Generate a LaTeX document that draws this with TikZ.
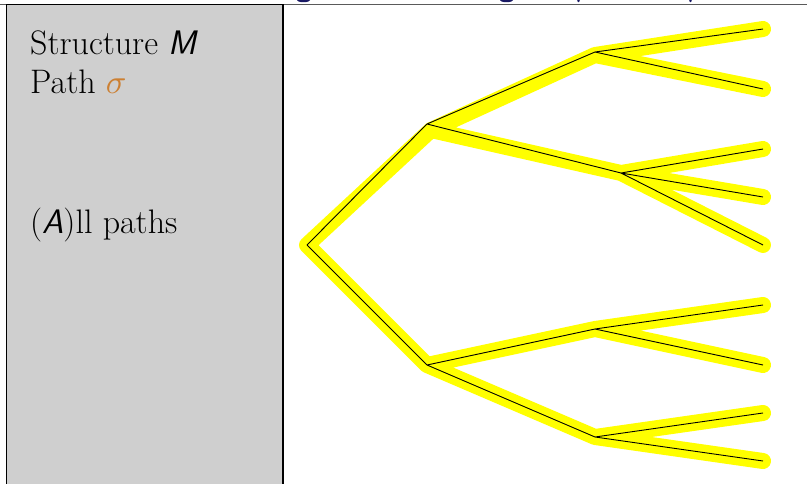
\documentclass[tikz,border=0pt]{standalone}
\definecolor{panel}{RGB}{207,207,207}
\definecolor{sigmacol}{RGB}{204,128,51}
\definecolor{titleblue}{RGB}{25,25,100}
\definecolor{hl}{RGB}{255,255,0}
\definecolor{rule}{RGB}{90,90,90}
\newcommand{\bigsigma}{\scalebox{3.4}{\fontsize{10}{12}\selectfont$\sigma$}}
\begin{document}
\begin{tikzpicture}[x=1pt,y=-1pt,
  lbl/.style={anchor=base west, inner sep=0pt, font=\fontsize{34}{40}\selectfont},
  hlpath/.style={draw=hl, line width=16pt, line cap=round, line join=round},
  edge/.style={draw=black, line width=0.9pt}]
\useasboundingbox (0,0) rectangle (807,483);
\fill[white] (0,0) rectangle (807,483);
% clipped descenders of the title above
\begin{scope}
  \clip (0,0) rectangle (807,3.4);
  \fill[titleblue] (303.5,0.2) ellipse (6.5 and 2);
  \fill[titleblue] (506.5,0.2) ellipse (6.5 and 2);
  \fill[titleblue] (578.5,0) ellipse (1.3 and 2.2);
  \fill[titleblue] (690.5,0) ellipse (1.3 and 2.2);
\end{scope}
\draw[rule, line width=1pt] (0,4.7) -- (807,4.7);
% left panel
\filldraw[fill=panel, draw=black, line width=1.5pt] (6.5,4.7) rectangle (283,495);
\node[lbl] (t1) at (30,54) {Structure \textsf{\itshape M}};
\node[lbl] (t2) at (30,93) {Path \textcolor{sigmacol}{\bigsigma}};
\node[lbl] (t3) at (30,233) {(\textsf{\itshape A})ll paths};
% tree points
\coordinate (r) at (307,245);
\coordinate (a) at (427,124);
\coordinate (ya) at (431,130);
\coordinate (b) at (427,365);
\coordinate (c) at (595,52);
\coordinate (yc) at (595,55);
\coordinate (d) at (621,173);
\coordinate (e) at (595,329);
\coordinate (f) at (595,437);
\coordinate (c1) at (763,29);
\coordinate (c2) at (763,89);
\coordinate (d1) at (763,149);
\coordinate (d2) at (763,197);
\coordinate (d3) at (763,245);
\coordinate (e1) at (763,305);
\coordinate (e2) at (763,365);
\coordinate (f1) at (763,413);
\coordinate (f2) at (763,461);
% highlight
\draw[hlpath] (c1) -- (yc) -- (c2) (yc) -- (ya) -- (d) (d1) -- (d) -- (d2) (d) -- (d3)
  (ya) -- (r) -- (b) -- (e) (e1) -- (e) -- (e2) (b) -- (f) (f1) -- (f) -- (f2);
% tree edges
\draw[edge] (r) -- (a) (r) -- (b)
  (a) -- (c) (a) -- (d) (b) -- (e) (b) -- (f)
  (c) -- (c1) (c) -- (c2)
  (d) -- (d1) (d) -- (d2) (d) -- (d3)
  (e) -- (e1) (e) -- (e2)
  (f) -- (f1) (f) -- (f2);
\end{tikzpicture}
\end{document}
